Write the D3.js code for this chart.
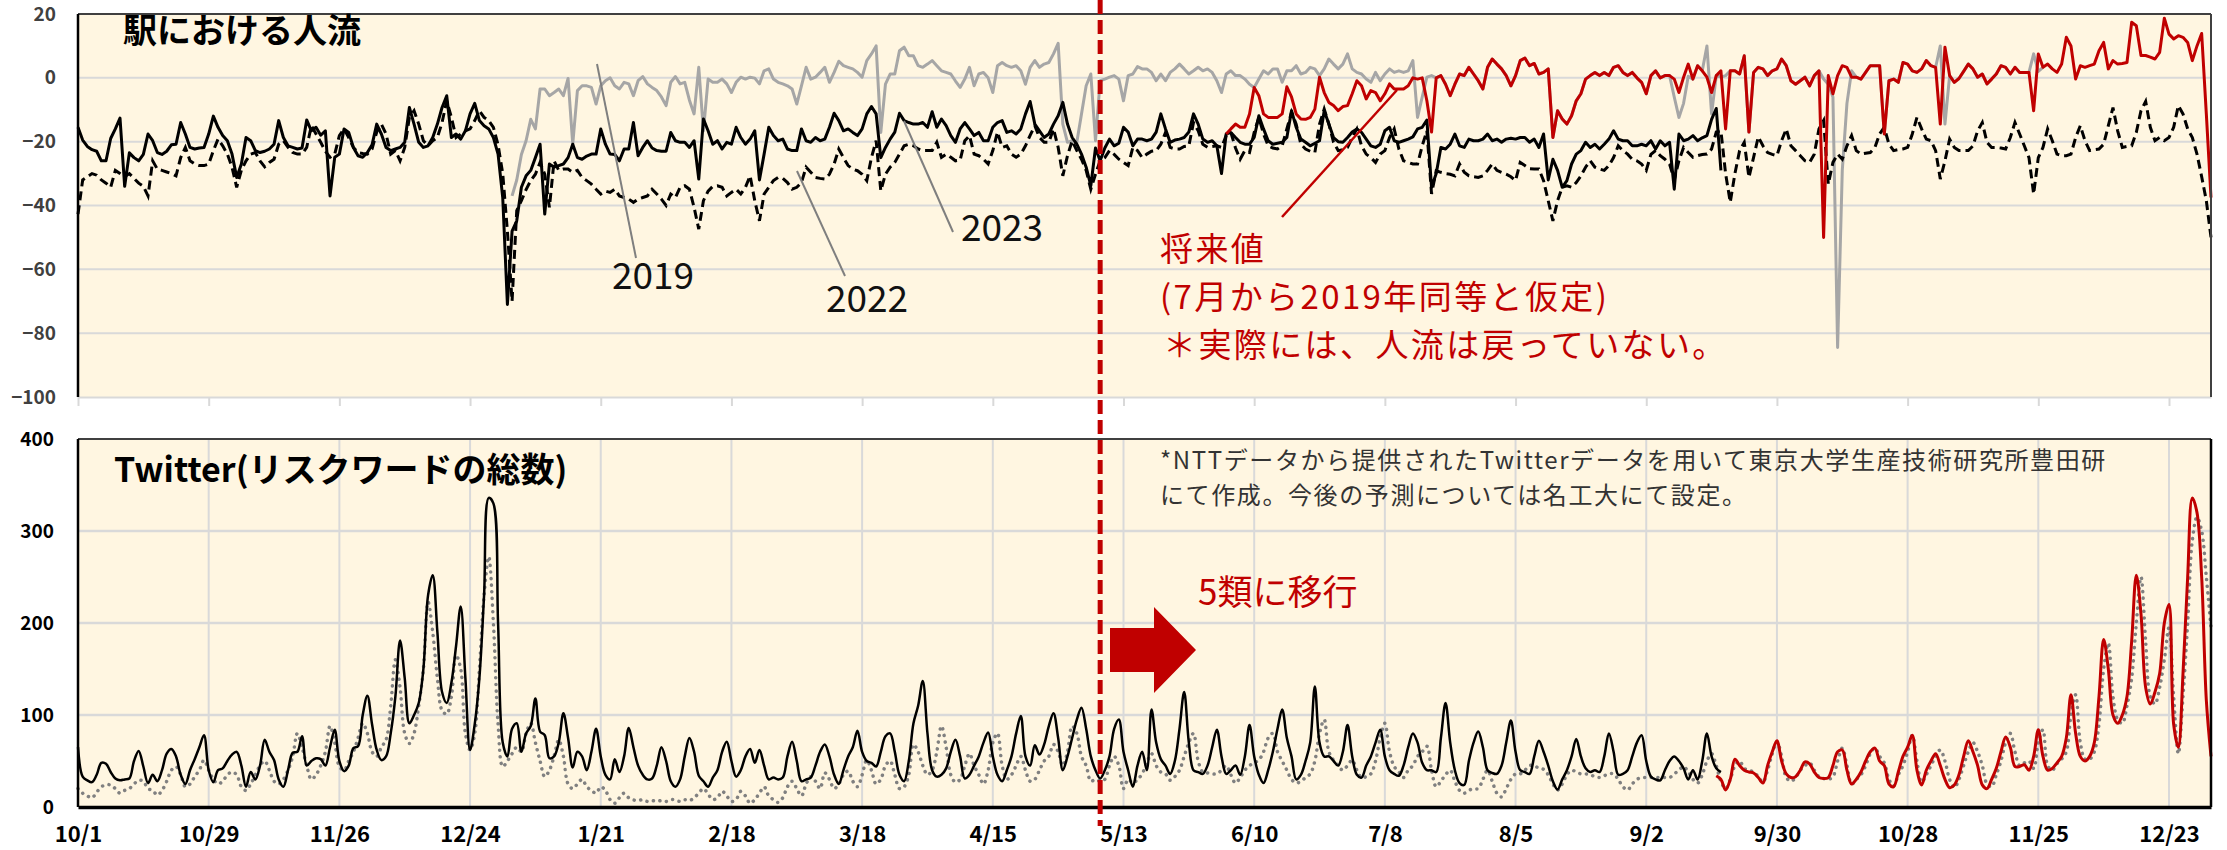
<!DOCTYPE html>
<html>
<head>
<meta charset="utf-8">
<script src="https://cdn.jsdelivr.net/npm/d3@7"></script>
<style>
  html, body { margin: 0; padding: 0; background: #fff; }
  svg { display: block; font-family: "Noto Sans CJK JP", "Noto Sans", sans-serif; }
</style>
</head>
<body>
<script>
// ---- data (daily values, day 0 = 2022-10-01) ----
const startDate = new Date(Date.UTC(2022, 9, 1));
const lastDay = 457;

const tickLabels = ['10/1', '10/29', '11/26', '12/24', '1/21', '2/18', '3/18', '4/15', '5/13',
    '6/10', '7/8', '8/5', '9/2', '9/30', '10/28', '11/25', '12/23'];

// 駅における人流 : 2023 (solid black), starts day 0
const flow2023 = [
    -15.5, -19.5, -21.5, -22.5, -23, -26, -26, -19, -16, -12.6,
    -34, -23.5, -25, -26, -24, -17.6, -19.7, -23.4, -24, -23,
    -21, -20.8, -14, -17.6, -21.8, -22.3, -22, -21.8, -17.6, -12,
    -15.5, -18.1, -19.7, -23.9, -31.2, -27, -18.7, -19.7, -22.8, -23.4,
    -23, -22.3, -20.8, -13.4, -18.7, -21.3, -21.8, -22.3, -22, -13.2,
    -16.6, -15.5, -18, -16.6, -37, -24.9, -23.9, -16, -17.1, -21.8,
    -24.4, -24.9, -23.4, -21, -14.5, -17.6, -21.8, -22.8, -22.3, -21.8,
    -20.2, -9.3, -14.5, -20.2, -21.8, -21.3, -18.7, -14.5, -9.3, -5.6,
    -18.7, -17.6, -19.2, -16.6, -11.3, -8, -13.4, -15, -16, -18.7,
    -23.9, -37.5, -71, -48, -44.8, -34.3, -30.7, -29, -25, -20.8,
    -42.7, -27, -28, -27.5, -27, -25, -20.8, -25, -25.5, -24.5,
    -23.9, -23.9, -16, -20.8, -23.9, -24, -26, -22.3, -22.3, -14,
    -24.4, -21.8, -19.7, -22, -22.8, -23, -23, -17.1, -19.7, -20.2,
    -20.2, -21.8, -19.7, -31.7, -12.9, -16.6, -20.8, -19.7, -22.3, -20.2,
    -20.8, -15.5, -18.7, -20.8, -19.2, -16.6, -32, -23.9, -15.5, -18.1,
    -19.7, -19.2, -22.3, -22.8, -22.8, -16, -19.7, -20.2, -18.7, -19.7,
    -19.2, -15.5, -11.1, -13.4, -16.6, -16, -17.1, -18.1, -16, -11.3,
    -9, -11.3, -25, -21.8, -19.2, -17, -11.1, -13.4, -14, -14.5,
    -14.5, -14, -15.5, -10.6, -15.5, -12.9, -15, -18.1, -20.2, -16,
    -14, -16, -18.1, -17.1, -19.7, -19.7, -15.5, -14, -13.4, -17.1,
    -16.6, -17.6, -16, -11.3, -7.4, -14.5, -16.6, -18.7, -17.6, -14.5,
    -11.9, -7.7, -14.5, -18.7, -20.8, -23.9, -28, -33.8, -22, -26,
    -22, -19.2, -21.3, -20.5, -15.5, -17, -21.3, -19.2, -19.2, -19.7,
    -19.2, -17, -11.3, -16, -20.2, -19.5, -19.2, -18.7, -17, -11.3,
    -14.5, -19.2, -20.2, -19.7, -21.3, -30, -17.6, -17.1, -18.7, -20.2,
    -20.8, -20.8, -18.7, -11.9, -16, -19.7, -20.8, -20.5, -20.2, -18.7,
    -10.3, -15.5, -19.2, -20.2, -21.3, -20.5, -19.7, -10.3, -14.5, -18.7,
    -20, -20.2, -18.7, -17, -16, -17.1, -19.2, -21.3, -21.8, -20.8,
    -16.6, -15.5, -19.7, -20.2, -19.7, -19.2, -18.5, -16, -15.5, -13.2,
    -34.3, -30, -21.8, -22.3, -20.8, -17.6, -21.3, -21.8, -19.2, -19.7,
    -19.7, -19.2, -17.6, -19.7, -19.2, -20.2, -19.2, -18.9, -19.2, -18.7,
    -18.7, -20.2, -19.2, -21.8, -17.6, -32, -25.5, -29, -34.3, -32.2,
    -27, -23.9, -22.8, -20.2, -21.8, -20.8, -22.3, -20.8, -19.2, -16.6,
    -19.2, -19.7, -19.7, -21.3, -21.3, -20.8, -21.3, -19.7, -22.3, -19.7,
    -21.3, -20.2, -34.9, -17.6, -19.7, -19.2, -18.1, -19.7, -18.8, -18.1,
    -13, -9.6, -29
];

// 2022 (dashed black), starts day 0
const flow2022 = [
    -42.7, -32, -31, -30, -30.5, -32, -33, -34.3, -29, -30,
    -31, -30, -31.5, -33, -34, -37, -26, -28.6, -29, -29.5,
    -30, -30.7, -25, -21.8, -26, -27, -27.5, -27.5, -27, -22.8,
    -19.2, -21.3, -23.9, -28, -34.3, -29, -26, -23.9, -23.4, -26,
    -27.9, -26.5, -25.5, -20.8, -19.7, -21.8, -23.4, -23.9, -23.9, -21.8,
    -15, -17.6, -20.2, -23, -24.9, -23.9, -18.1, -16, -18.7, -21.8,
    -23.4, -23.7, -23.9, -22.3, -17, -14.5, -17.6, -23.9, -22.8, -26,
    -21.8, -12.4, -10.3, -14.5, -19.7, -21.3, -19.7, -18.7, -14, -7.2,
    -12.4, -18.7, -17.6, -16.6, -16, -13.4, -10.3, -12.4, -13.4, -15.5,
    -21, -30, -48, -70, -41.6, -38.5, -35, -32.2, -30.2, -26.5,
    -30.2, -40.6, -26, -29, -28.6, -28.6, -29.6, -29, -31.2, -32.2,
    -33.3, -34.9, -36.4, -35.5, -35.9, -34.9, -37, -37.5, -38, -39,
    -38, -37.5, -37, -34.9, -36.4, -38, -40, -36.4, -37.5, -34.3,
    -33.8, -34.9, -40.6, -47.4, -38.5, -35.5, -34, -33.8, -34.3, -37,
    -35.9, -34.9, -36.4, -34.3, -30.7, -38.5, -44.8, -36.4, -34.3, -32.2,
    -31.2, -31.5, -32.8, -34.9, -34.3, -32.8, -28, -29.6, -31.2, -31.5,
    -31.7, -30.2, -27, -22.3, -25, -27.5, -28.6, -29.1, -30.2, -32.2,
    -25, -19.7, -35.4, -30.2, -28, -26.5, -23.9, -21.3, -20.8, -21.3,
    -22.3, -22.8, -22.8, -22.8, -20.2, -24.9, -23.9, -24.9, -26, -25.8,
    -19.7, -18.1, -23.9, -24.4, -25.5, -27, -22.8, -17, -21.8, -21.3,
    -23.9, -24.9, -23.9, -21.3, -18, -15, -18.7, -20.2, -20.2, -16,
    -21.8, -30.7, -24.4, -19.7, -22.8, -25.5, -29, -34.9, -30.2, -26,
    -25, -22.8, -24, -25.5, -26.5, -27.5, -21.8, -22.8, -25, -23.9,
    -23, -22.8, -20.8, -17.1, -21.8, -22.3, -22.3, -21.5, -21.3, -14,
    -16.6, -20.8, -21.8, -21.5, -21.3, -21.8, -18.1, -17.1, -22, -25.5,
    -22.8, -23.4, -17.1, -12.4, -17.6, -21.3, -22, -22.3, -21.3, -16,
    -10.8, -14.5, -20.8, -22.3, -23, -23.4, -14.5, -9.8, -14.5, -20.2,
    -22.8, -22.5, -21.8, -18.7, -16, -21.3, -23.9, -25, -26.5, -23.9,
    -22.8, -18.7, -16, -22.3, -26, -26.5, -27, -27, -21.3, -16.6,
    -36.4, -29.1, -29.6, -30, -30.2, -30.7, -27, -29.6, -30.7, -31,
    -31.2, -30.7, -29, -27, -29, -29.6, -30.2, -31, -32.2, -26.5,
    -27.5, -28.5, -28.6, -28.6, -32.2, -38.5, -44.8, -38.5, -34.3, -33.8,
    -34.3, -32.8, -30.7, -28, -26, -28, -28.6, -29, -27.5, -25,
    -21.3, -22.8, -23.9, -25.5, -26, -27, -29, -24, -22.8, -24.4,
    -25.5, -27, -32, -26, -21.8, -23.4, -24.9, -24.4, -24, -23.9,
    -22.3, -17, -16.6, -30, -39, -30, -22.8, -20.2, -31.2, -24.9,
    -18.5, -21.3, -23.4, -24, -24.4, -19.7, -16, -21.3, -22.8, -24.4,
    -26, -26.5, -23.9, -16, -13.4, -33.3, -26.5, -23.9, -25.5, -21.3,
    -18.1, -22.8, -23.9, -23.6, -23.4, -21.8, -17.6, -15.5, -20.8, -22.8,
    -22.5, -22.3, -21.8, -17.6, -12.4, -16, -19.2, -19.7, -22.8, -31.7,
    -26, -19.2, -21.8, -22.8, -22.8, -22.8, -21.3, -16.6, -14, -20.2,
    -21.8, -21.8, -22, -22.3, -18.7, -14, -17.6, -21.3, -25, -36.4,
    -25, -21.8, -16, -19.7, -23.9, -24.4, -24.4, -23.9, -18.7, -15,
    -19.7, -22.8, -22.5, -22.3, -20.8, -15, -9.3, -16.6, -21.8, -21.5,
    -21.3, -17.1, -10.3, -7.4, -15.5, -19.7, -18.7, -19.7, -18.7, -15.5,
    -8.7, -11.3, -16, -18.7, -23.9, -31, -38.5, -50
];

// 2019 (grey), starts day 93
const flow2019Start = 93;
const flow2019 = [
    -37, -32, -24, -19.7, -13, -16, -3.5,
    -3.5, -5.6, -4.6, -3.5, -5.6, -0.2, -20.8, -4, -2.5, -2.5,
    -3, -8.2, -2.5, -0.9, 0, -2.5, -3.5, -1.4, -1.9, -5.6,
    -0.9, 0.4, -1.9, -3, -4, -6, -8.7, -1.4, 0.4, -1.9,
    -1.4, -7, -11.3, 3.3, -16.6, -0.4, -1.4, -1.4, -0.4, -1.9,
    -4.6, -1.4, 0.2, -0.4, 0.2, -0.1, -1.9, 2.2, 2.8, -0.4,
    -1.4, -1.9, -2.5, -3.5, -8.2, -2.5, 3.3, -0.4, 0.2, 1.7,
    3.3, -1.4, 1.7, 5.2, 3.8, 3.3, 2.8, 1.7, 0.2, 5.4,
    7.5, 10, -17.1, -2, 1.2, 1.2, 8.5, 9.6, 6.9, 6.9,
    3.8, 3.3, 4.3, 5.4, 3.8, 2.2, 1.7, 1.2, -1, -3,
    -0.4, 3.3, -2.5, 1.2, 1.7, 0, -4.6, 3.8, 4.8, 3.8,
    3.3, 3.8, 2.2, -2, 3.3, 5.4, 3.3, 4.3, 4.8, 7.5,
    10.8, -14.5, -20.2, -19.7, -20.2, -11.3, -2.5, 1.2, -19.7, -0.9,
    -0.4, 0.2, 0.7, -0.4, -7.2, 0.7, 1.2, 3.5, 2.8, 2.8,
    1.7, -0.9, 1.2, -0.9, 1.7, 2.8, 4.3, 2.8, 1.2, 2.2,
    3.3, 2.2, 2.8, 1.7, -0.9, -4.6, 1.2, 2.2, 0.7, 0.7,
    -0.4, -2, -3, -0.4, 2.2, 1.2, 2.8, 2.8, -1.4, 2.2,
    2.2, 3.8, 1.2, 1.7, 3.3, 2.8, 0.7, 2.8, 5.9, 4.3,
    2.8, 4.3, 7.5, 2.8, 1.7, 1.2, -0.4, -1.4, 1.7, -0.9,
    1.2, 2.8, 1.7, 2.2, 1.7, 2.2, 5.4, -12.4, -6, 0.2,
    0.7, 0, 0.7, -2, -5.6, -2, 1.2, 0.7, 3.3, 1.2,
    -0.9, -3.5, 3.3, 5.9, 4.3, 2.8, 0.7, -2.5, 0.7, 5.4,
    6.2, 3.8, 4.5, 1.2, 1.7, 2.8, -18.7, -10.3, -12.9, -14.5,
    -11.9, -7.2, -5, -0.4, 0.7, 1.7, 0.7, 1.7, 0.7, 3.3,
    3.8, 1.7, 0.7, 1.7, 0, -1.4, -5, 0.7, 2.2, 0,
    0.7, 0.7, -6, -12.4, -8, 0.5, -0.4, 3.8, 2.2, 10,
    -11.3, 0.7, 0.2, 0.7, 2.2, 2.2, 1.2, 6.9, -17, 1.7,
    3.3, 2.8, 0.7, 2.2, 2.8, 5.9, 3.8, -0.9, -2, -0.9,
    0.2, -2.5, 0.7, 2.2, -0.4, -2, -6, -84.5, -29, -8,
    2.2, 0.2, -0.4, 1.7, 3.8, 3.8, 3.8, -17.6, -0.9, -0.4,
    -1.4, 4.8, 4.3, 2.2, 1.7, 2.8, 5.4, 3.8, 3.3, 10,
    -14.5, 0.7, -1.4, -0.2, 2, 4.3, 2.8, 0.2, 1.2, -1.9,
    -0.4, 1.2, 3.8, 3.3, 1.2, 3.3, 1.7, 1.7, 1.7, 7.5,
    2, 3.3
];

// 将来値 (red), starts day 246
const flowFutureStart = 246;
const flowFuture = [
    -17.6, -16, -14.5, -15.5,
    -15.5, -11.3, -3, -5.6, -11.3, -12.4, -12.4, -12.4, -11.3, -2.8,
    -6, -11.3, -12.9, -13, -12.4, -9.8, 0.2, -4.6, -7.7, -8.7,
    -10.3, -9, -8.7, -5, -0.9, -2.5, -6.6, -4, -4.6, -7.2,
    -5, -1.9, -3.5, -3.5, -3.5, -2.5, 0, -0.4, 0, -7.2,
    -17, 0, 0.7, -2, -5.6, -2, 1.2, 0.7, 3.3, 1.2,
    -0.9, -3.5, 3.3, 5.9, 4.3, 2.8, 0.7, -2.5, 0.7, 5.4,
    6.2, 3.8, 4.5, 1.2, 1.7, 2.8, -18.7, -10.3, -12.9, -14.5,
    -11.9, -7.2, -5, -0.4, 0.7, 1.7, 0.7, 1.7, 0.7, 3.3,
    3.8, 1.7, 0.7, 1.7, 0, -1.4, -5, 0.7, 2.2, 0,
    0.7, 0.7, -0.4, -4.6, 0.2, 4.3, -0.4, 3.8, 2.2, 0.2,
    -4.6, 0.7, 2.2, -16, 2.2, 2.2, 1.2, 6.9, -17, 1.7,
    3.3, 2.8, 0.7, 2.2, 2.8, 5.9, 3.8, -0.9, -2, -0.9,
    0.2, -2.5, 0.7, 2.2, -50, 0.7, -5, 0.7, 3.8, 3.3,
    0.2, 0.2, -0.4, 1.7, 3.8, 3.8, 3.8, -17.6, -0.9, -0.4,
    -1.4, 4.8, 4.3, 2.2, 1.7, 2.8, 5.4, 3.8, 3.3, -14.5,
    9.6, 0.7, -1.4, -0.2, 2, 4.3, 2.8, 0.2, 1.2, -1.9,
    -0.4, 1.2, 3.8, 3.3, 1.2, 3.3, 1.7, 1.7, 1.7, -10.3,
    7.5, 3.3, 4.3, 2.8, 1.7, 4.3, 12.7, 10, -0.4, 3.8,
    3.3, 3.8, 4.3, 8.5, 11.1, 2.8, 5.4, 4.3, 4.5, 4.8,
    17.4, 16.3, 7, 7, 6.5, 5.9, 8, 18.7, 13.7, 12.2,
    13.2, 12.7, 11.1, 5.4, 10, 13.9, -11.3, -37.5
];

// Twitter(リスクワードの総数): actual (black), starts day 0
const twActual = [
    65, 33, 29, 27, 35, 48, 47, 38, 31, 29,
    30, 31, 50, 61, 44, 26, 35, 28, 40, 58,
    63, 55, 35, 25, 40, 52, 65, 78, 40, 27,
    40, 42, 50, 57, 60, 45, 22, 38, 30, 45,
    73, 60, 51, 30, 22, 40, 59, 60, 77, 45,
    50, 53, 52, 45, 65, 84, 50, 39, 45, 64,
    66, 100, 121, 90, 62, 51, 55, 80, 120, 181,
    140, 91, 100, 113, 150, 230, 252, 190, 125, 113,
    135, 175, 218, 140, 62, 90, 140, 230, 336, 330,
    200, 70, 55, 85, 91, 60, 80, 88, 118, 82,
    78, 53, 55, 70, 102, 75, 43, 60, 55, 40,
    60, 85, 55, 35, 30, 52, 38, 55, 86, 65,
    45, 35, 30, 31, 45, 65, 50, 28, 22, 30,
    55, 75, 60, 34, 28, 22, 32, 40, 60, 71,
    50, 33, 40, 55, 63, 48, 62, 45, 30, 32,
    30, 32, 55, 71, 50, 28, 30, 32, 45, 60,
    68, 55, 35, 25, 40, 55, 65, 83, 60, 50,
    48, 44, 60, 77, 80, 60, 35, 28, 50, 91,
    110, 137, 80, 40, 33, 35, 42, 60, 73, 55,
    31, 35, 45, 55, 70, 81, 55, 35, 28, 40,
    55, 80, 99, 55, 45, 67, 57, 68, 88, 102,
    75, 40, 55, 75, 95, 108, 85, 55, 40, 31,
    40, 55, 85, 95, 60, 40, 22, 45, 60, 40,
    106, 70, 52, 45, 36, 50, 85, 125, 70, 40,
    38, 36, 45, 65, 84, 55, 36, 40, 45, 35,
    55, 89, 55, 35, 26, 40, 60, 85, 106, 75,
    55, 30, 35, 50, 70, 131, 70, 55, 55, 50,
    45, 60, 89, 55, 35, 32, 45, 55, 70, 84,
    55, 40, 36, 34, 45, 65, 80, 70, 48, 40,
    40, 38, 75, 113, 70, 40, 26, 24, 50, 70,
    82, 65, 40, 37, 36, 45, 70, 94, 60, 40,
    38, 36, 55, 72, 60, 45, 28, 19, 30, 40,
    55, 74, 55, 42, 38, 40, 38, 55, 80, 60,
    35, 36, 40, 55, 70, 78, 50, 33, 30, 29,
    40, 50, 55, 50, 42, 30, 40, 30, 50, 80,
    55, 42, 38
];

// previous-year basis (grey dotted), starts day 0
const twPrev = [
    20, 15, 12, 10, 16, 22, 24, 24, 20, 15,
    18, 20, 25, 29, 28, 20, 18, 13, 18, 28,
    40, 44, 35, 22, 25, 33, 40, 51, 40, 30,
    25, 28, 35, 38, 35, 22, 18, 25, 35, 45,
    50, 40, 28, 25, 30, 40, 55, 80, 65, 45,
    30, 35, 45, 60, 88, 70, 44, 40, 50, 60,
    75, 91, 80, 60, 55, 65, 73, 110, 160, 130,
    80, 69, 80, 110, 150, 223, 190, 140, 105, 101,
    120, 165, 150, 80, 62, 80, 150, 230, 272, 200,
    90, 44, 50, 58, 65, 60, 80, 91, 70, 50,
    33, 40, 55, 73, 55, 25, 20, 25, 30, 22,
    18, 15, 22, 18, 8, 4, 10, 15, 10, 7.7,
    7, 8, 6, 7, 6, 7, 6, 8, 7.7, 6,
    8, 7, 10, 15, 20, 14, 8, 10, 17, 12,
    6, 8, 17, 12, 4, 8, 15, 22, 12, 8,
    5, 10, 22, 28, 20, 12, 25, 33, 28, 20,
    37, 30, 20, 25, 35, 39, 28, 22, 35, 51,
    40, 25, 30, 45, 50, 35, 20, 22, 35, 68,
    60, 45, 35, 40, 60, 88, 65, 35, 27, 30,
    45, 58, 45, 35, 25, 40, 70, 80, 45, 30,
    35, 45, 55, 40, 28, 30, 40, 50, 55, 68,
    60, 45, 60, 88, 80, 55, 45, 28, 30, 28,
    30, 45, 55, 45, 20, 30, 26, 30, 36, 48,
    58, 45, 38, 36, 29, 33, 40, 55, 70, 80,
    50, 38, 37, 36, 36, 40, 45, 35, 26, 32,
    40, 45, 48, 51, 60, 75, 80, 60, 50, 40,
    30, 26, 28, 32, 36, 50, 80, 95, 60, 51,
    45, 40, 45, 51, 40, 32, 33, 36, 50, 75,
    91, 60, 44, 38, 32, 40, 45, 55, 60, 66,
    40, 22, 28, 35, 40, 28, 18, 15, 18, 20,
    20, 30, 40, 28, 15, 11, 20, 30, 36, 36,
    40, 45, 45, 42, 41, 35, 25, 18.5, 25, 35,
    40, 38, 36, 36, 35, 33, 32, 34, 36, 36,
    30, 22, 18.5, 25, 30, 32, 32, 32, 32, 32,
    32, 32, 36, 40, 44, 38, 30, 26, 35, 50,
    58, 45, 28, 20, 30, 45, 50, 42, 40, 38,
    33, 27, 40, 58, 71, 55, 32, 28, 32, 40,
    45, 48, 40, 33, 31, 30, 33, 50, 64, 45,
    25, 30, 35, 45, 58, 64, 55, 48, 30, 23,
    35, 45, 60, 78, 50, 27, 35, 45, 55, 62,
    50, 30, 21, 30, 45, 60, 70, 60, 45, 25,
    22, 35, 50, 70, 80, 60, 45, 48, 50, 42,
    70, 84, 45, 40, 47, 52, 60, 100, 122, 70,
    52, 52, 60, 90, 150, 178, 120, 95, 91, 110,
    140, 200, 250, 180, 120, 112, 130, 160, 195, 120,
    58, 120, 200, 290, 315, 300, 250, 195
];

// 今後の予測 (red), starts day 351
const twFutureStart = 351;
const twFuture = [
    34, 30, 18.5, 30, 52, 45, 40, 38, 37,
    32, 26, 45, 60, 72, 50, 36, 32, 33, 40,
    49, 47, 38, 32, 31, 32, 45, 60, 62, 40,
    25, 30, 38, 50, 60, 64, 50, 45, 25, 22,
    38, 55, 65, 78, 40, 24, 40, 50, 58, 45,
    30, 21, 24, 35, 55, 72, 60, 45, 24, 20,
    30, 42, 60, 76, 65, 44, 44, 46, 40, 55,
    84, 55, 40, 42, 48, 55, 75, 122, 80, 55,
    50, 55, 70, 120, 182, 150, 100, 91, 100, 120,
    180, 252, 210, 130, 112, 125, 145, 200, 220, 90,
    65, 145, 250, 336, 320, 250, 116, 55
];

const shiftDay = 219; // 2023-05-08

// ---- layout ----
const width = 2227, height = 850;
const left = 78, right = 2211;
const top1 = 14, bottom1 = 397;
const top2 = 439, bottom2 = 807;

const red = '#C00000';
const cream = '#FFF6E1';
const grid = '#D9D9D9';

const svg = d3.select('body')
    .append('svg')
    .attr('width', width)
    .attr('height', height);

const x = d3.scaleUtc()
    .domain([startDate, d3.utcDay.offset(startDate, lastDay)])
    .range([left, right]);

const yTop = d3.scaleLinear().domain([-100, 20]).range([bottom1, top1]);
const yBot = d3.scaleLinear().domain([0, 400]).range([bottom2, top2]);

const tickDates = tickLabels.map((_, i) => d3.utcDay.offset(startDate, 28 * i));

const toPoints = (arr, start) => arr.map((v, i) => ({ date: d3.utcDay.offset(startDate, start + i), value: v }));

// ================= top panel =================
svg.append('rect')
    .attr('x', left).attr('y', top1)
    .attr('width', right - left).attr('height', bottom1 - top1)
    .attr('fill', cream);

svg.append('g')
    .selectAll('line')
    .data([0, -20, -40, -60, -80])
    .join('line')
    .attr('x1', left).attr('x2', right)
    .attr('y1', d => yTop(d)).attr('y2', d => yTop(d))
    .attr('stroke', grid).attr('stroke-width', 2);

// bottom axis of top panel: grey line with ticks
const xTop = svg.append('g')
    .attr('transform', `translate(0,${bottom1})`)
    .call(d3.axisBottom(x).tickValues(tickDates).tickSize(9).tickSizeOuter(0).tickFormat(''));
xTop.select('.domain').attr('stroke', grid).attr('stroke-width', 2);
xTop.selectAll('.tick line').attr('stroke', grid).attr('stroke-width', 2);

const yTopAxis = svg.append('g')
    .attr('transform', `translate(${left},0)`)
    .call(d3.axisLeft(yTop).tickValues([20, 0, -20, -40, -60, -80, -100]).tickSize(0).tickPadding(22));
yTopAxis.select('.domain').remove();
yTopAxis.selectAll('text')
    .attr('font-family', '"Noto Sans CJK JP", sans-serif')
    .attr('font-size', 19).attr('font-weight', 700).attr('fill', '#404040');

const lineTop = d3.line().x(d => x(d.date)).y(d => yTop(d.value));

svg.append('path')
    .datum(toPoints(flow2019, flow2019Start))
    .attr('d', lineTop)
    .attr('fill', 'none').attr('stroke', '#A6A6A6').attr('stroke-width', 3)
    .attr('stroke-linejoin', 'round');

svg.append('path')
    .datum(toPoints(flow2022, 0))
    .attr('d', lineTop)
    .attr('fill', 'none').attr('stroke', '#000').attr('stroke-width', 3)
    .attr('stroke-dasharray', '9,5');

svg.append('path')
    .datum(toPoints(flow2023, 0))
    .attr('d', lineTop)
    .attr('fill', 'none').attr('stroke', '#000').attr('stroke-width', 3)
    .attr('stroke-linejoin', 'round');

svg.append('path')
    .datum(toPoints(flowFuture, flowFutureStart))
    .attr('d', lineTop)
    .attr('fill', 'none').attr('stroke', red).attr('stroke-width', 3)
    .attr('stroke-linejoin', 'round');

// frame of top panel
svg.append('line').attr('x1', left).attr('x2', right).attr('y1', top1).attr('y2', top1)
    .attr('stroke', '#404040').attr('stroke-width', 2);
svg.append('line').attr('x1', left).attr('x2', left).attr('y1', top1).attr('y2', bottom1)
    .attr('stroke', '#000').attr('stroke-width', 2.5);
svg.append('line').attr('x1', right).attr('x2', right).attr('y1', top1).attr('y2', bottom1)
    .attr('stroke', '#404040').attr('stroke-width', 2);

svg.append('text')
    .attr('x', 123).attr('y', 28)
    .attr('dominant-baseline', 'central')
    .attr('font-size', 34).attr('font-weight', 700)
    .text('駅における人流');

// leader labels
const leaders = [
    { label: '2019', x1: 597, y1: 64, x2: 636, y2: 258, tx: 612, ty: 289 },
    { label: '2022', x1: 797, y1: 171, x2: 845, y2: 276, tx: 826, ty: 312 },
    { label: '2023', x1: 904, y1: 121, x2: 953, y2: 232, tx: 961, ty: 241 }
];
leaders.forEach(l => {
    svg.append('line')
        .attr('x1', l.x1).attr('y1', l.y1).attr('x2', l.x2).attr('y2', l.y2)
        .attr('stroke', '#7F7F7F').attr('stroke-width', 2);
    svg.append('text')
        .attr('x', l.tx).attr('y', l.ty)
        .attr('font-size', 37).attr('fill', '#111')
        .text(l.label);
});

svg.append('line')
    .attr('x1', 1282).attr('y1', 217).attr('x2', 1397).attr('y2', 90)
    .attr('stroke', red).attr('stroke-width', 2.5);

// red note, one text per line
const redLines = [
    { text: '将来値', x: 1160, y: 261 },
    { text: '(7月から2019年同等と仮定)', x: 1160, y: 309 },
    { text: '＊実際には、人流は戻っていない。', x: 1163, y: 357 }
];
svg.append('g')
    .selectAll('text')
    .data(redLines)
    .join('text')
    .attr('x', d => d.x).attr('y', d => d.y)
    .attr('fill', red).attr('font-size', 33).attr('letter-spacing', 2.4)
    .text(d => d.text);

// ================= bottom panel =================
svg.append('rect')
    .attr('x', left).attr('y', top2)
    .attr('width', right - left).attr('height', bottom2 - top2)
    .attr('fill', cream);

svg.append('g')
    .selectAll('line')
    .data(tickDates.slice(1))
    .join('line')
    .attr('x1', d => x(d)).attr('x2', d => x(d))
    .attr('y1', top2).attr('y2', bottom2)
    .attr('stroke', grid).attr('stroke-width', 2);

svg.append('g')
    .selectAll('line')
    .data([100, 200, 300])
    .join('line')
    .attr('x1', left).attr('x2', right)
    .attr('y1', d => yBot(d)).attr('y2', d => yBot(d))
    .attr('stroke', grid).attr('stroke-width', 2.5);

const lineBot = d3.line().curve(d3.curveCatmullRom.alpha(0.5)).x(d => x(d.date)).y(d => yBot(d.value));

svg.append('path')
    .datum(toPoints(twPrev, 0))
    .attr('d', lineBot)
    .attr('fill', 'none').attr('stroke', '#808080').attr('stroke-width', 3.5)
    .attr('stroke-linecap', 'round').attr('stroke-dasharray', '0.1,6.5');

svg.append('path')
    .datum(toPoints(twActual, 0))
    .attr('d', lineBot)
    .attr('fill', 'none').attr('stroke', '#000').attr('stroke-width', 2.5);

svg.append('path')
    .datum(toPoints(twFuture, twFutureStart))
    .attr('d', lineBot)
    .attr('fill', 'none').attr('stroke', red).attr('stroke-width', 3);

svg.append('line').attr('x1', left).attr('x2', right).attr('y1', top2).attr('y2', top2)
    .attr('stroke', '#404040').attr('stroke-width', 2);
svg.append('line').attr('x1', right).attr('x2', right).attr('y1', top2).attr('y2', bottom2)
    .attr('stroke', '#000').attr('stroke-width', 2.5);
svg.append('line').attr('x1', left).attr('x2', left).attr('y1', top2).attr('y2', bottom2)
    .attr('stroke', '#000').attr('stroke-width', 2.5);

const xBot = svg.append('g')
    .attr('transform', `translate(0,${bottom2})`)
    .call(d3.axisBottom(x).tickValues(tickDates).tickSize(0).tickPadding(19)
        .tickFormat((d, i) => tickLabels[i]));
xBot.select('.domain').attr('stroke', '#000').attr('stroke-width', 3.5);
xBot.selectAll('text')
    .attr('font-family', '"Noto Sans CJK JP", sans-serif')
    .attr('font-size', 22).attr('font-weight', 700).attr('fill', '#000');

const yBotAxis = svg.append('g')
    .attr('transform', `translate(${left},0)`)
    .call(d3.axisLeft(yBot).tickValues([0, 100, 200, 300, 400]).tickSize(0).tickPadding(24));
yBotAxis.select('.domain').remove();
yBotAxis.selectAll('text')
    .attr('font-family', '"Noto Sans CJK JP", sans-serif')
    .attr('font-size', 19).attr('font-weight', 700).attr('fill', '#000');

svg.append('text')
    .attr('x', 114).attr('y', 467)
    .attr('dominant-baseline', 'central')
    .attr('font-size', 34).attr('font-weight', 700)
    .text('Twitter(リスクワードの総数)');

// source note, one text per line
const noteLines = [
    { text: '*NTTデータから提供されたTwitterデータを用いて東京大学生産技術研究所豊田研', y: 469 },
    { text: 'にて作成。今後の予測については名工大にて設定。', y: 504 }
];
svg.append('g')
    .selectAll('text')
    .data(noteLines)
    .join('text')
    .attr('x', 1160).attr('y', d => d.y)
    .attr('fill', '#333').attr('font-size', 24).attr('letter-spacing', 1.6)
    .text(d => d.text);

svg.append('text')
    .attr('x', 1198).attr('y', 605)
    .attr('fill', red).attr('font-size', 35)
    .text('5類に移行');

svg.append('polygon')
    .attr('points', '1110,628 1154,628 1154,607 1196,650 1154,693 1154,672 1110,672')
    .attr('fill', red);

// 5類移行 line across both panels
const xShift = x(d3.utcDay.offset(startDate, shiftDay));
svg.append('line')
    .attr('x1', xShift).attr('x2', xShift)
    .attr('y1', 0).attr('y2', 826)
    .attr('stroke', red).attr('stroke-width', 5)
    .attr('stroke-dasharray', '14,6');
</script>
</body>
</html>
